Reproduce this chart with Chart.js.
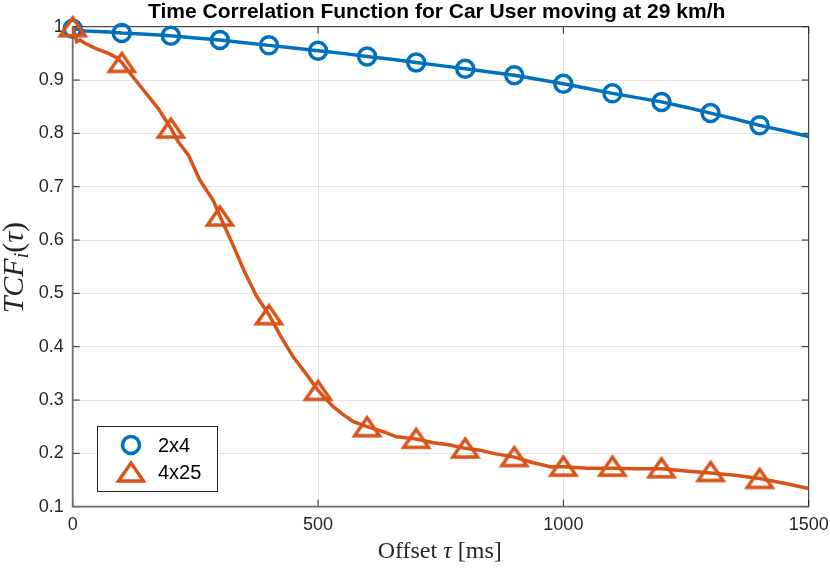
<!DOCTYPE html>
<html>
<head>
<meta charset="utf-8">
<script src="https://cdn.jsdelivr.net/npm/chart.js@4.4.1/dist/chart.umd.min.js"></script>
<style>
  html, body { margin: 0; padding: 0; background: #fff; }
  #wrap { width: 830px; height: 568px; }
</style>
</head>
<body>
<div id="wrap"><canvas id="tcfChart"></canvas></div>
<script>
// Values
const lineTau2x4 = [0, 25, 50, 75, 100, 150, 200, 250, 300, 350, 400, 450, 500, 550, 600, 650, 700, 750,
  800, 850, 900, 950, 1000, 1050, 1100, 1150, 1200, 1250, 1300, 1350, 1400, 1450, 1500];
const lineTcf2x4 = [0.997, 0.992, 0.991, 0.99, 0.988, 0.986, 0.983, 0.979, 0.975, 0.97, 0.965, 0.96, 0.955,
  0.95, 0.944, 0.939, 0.933, 0.927, 0.921, 0.915, 0.909, 0.901, 0.893, 0.884, 0.875, 0.867, 0.859, 0.849,
  0.838, 0.827, 0.815, 0.805, 0.794];

const lineTau4x25 = [0, 5, 8, 15, 25, 45, 73, 90, 100, 120, 147, 174, 200, 215, 236, 259, 286, 300, 327,
  350, 375, 400, 425, 450, 475, 500, 531, 552, 572, 600, 633, 660, 700, 735, 769, 800, 830, 857, 900, 939,
  973, 1000, 1050, 1100, 1150, 1200, 1250, 1300, 1350, 1400, 1450, 1500];
const lineTcf4x25 = [1.0, 0.985, 0.972, 0.975, 0.969, 0.96, 0.95, 0.942, 0.933, 0.909, 0.878, 0.847, 0.81,
  0.784, 0.759, 0.7125, 0.675, 0.645, 0.59, 0.541, 0.494, 0.46, 0.418, 0.38, 0.35, 0.318, 0.2875, 0.272,
  0.2594, 0.25, 0.2406, 0.231, 0.227, 0.22, 0.2156, 0.2094, 0.206, 0.2, 0.193, 0.1825, 0.175, 0.175, 0.172,
  0.172, 0.171, 0.171, 0.167, 0.163, 0.159, 0.153, 0.144, 0.134];

const markerTau = [0, 100, 200, 300, 400, 500, 600, 700, 800, 900, 1000, 1100, 1200, 1300, 1400];
const markerTcf2x4 = [0.996, 0.988, 0.983, 0.975, 0.965, 0.955, 0.944, 0.933, 0.921, 0.909, 0.893, 0.875,
  0.859, 0.838, 0.815];
const markerTcf4x25 = [1.0, 0.933, 0.81, 0.645, 0.46, 0.318, 0.25, 0.228, 0.21, 0.194, 0.176, 0.176, 0.173,
  0.166, 0.153];

const seriesNames = ["2x4", "4x25"];
const xTicks = [0, 500, 1000, 1500];
const yTicks = [0.1, 0.2, 0.3, 0.4, 0.5, 0.6, 0.7, 0.8, 0.9, 1];

const BLUE = "#0072BD";
const ORANGE = "#D95319";
const SANS = "'Liberation Sans', Arial, sans-serif";
const SERIF = "'Liberation Serif', 'Times New Roman', serif";

function toPoints(xs, ys) {
  return xs.map((x, i) => ({ x: x, y: ys[i] }));
}

// MATLAB style '^' marker, centred on its bounding box
function makeTriangle(color) {
  const c = document.createElement("canvas");
  c.width = 34;
  c.height = 30;
  const g = c.getContext("2d");
  g.strokeStyle = color;
  g.lineWidth = 3.4;
  g.lineJoin = "miter";
  g.beginPath();
  g.moveTo(17, 6);
  g.lineTo(29.5, 24);
  g.lineTo(4.5, 24);
  g.closePath();
  g.stroke();
  return c;
}
const triangle = makeTriangle(ORANGE);

// Box, inward ticks, titles and legend
const framePlugin = {
  id: "frame",
  beforeDatasetsDraw(chart) {
    const { ctx, chartArea: a, scales } = chart;
    ctx.save();
    ctx.strokeStyle = "#262626";
    ctx.lineWidth = 1;
    ctx.beginPath();
    scales.y.ticks.forEach((t) => {
      const py = scales.y.getPixelForValue(t.value);
      ctx.moveTo(a.left, py);
      ctx.lineTo(a.left + 7, py);
      ctx.moveTo(a.right, py);
      ctx.lineTo(a.right - 7, py);
    });
    scales.x.ticks.forEach((t) => {
      const px = scales.x.getPixelForValue(t.value);
      ctx.moveTo(px, a.bottom);
      ctx.lineTo(px, a.bottom - 7);
      ctx.moveTo(px, a.top);
      ctx.lineTo(px, a.top + 7);
    });
    ctx.moveTo(a.left, a.top);
    ctx.lineTo(a.right, a.top);
    ctx.lineTo(a.right, a.bottom);
    ctx.stroke();
    ctx.strokeStyle = "#6e6e6e";
    ctx.lineWidth = 1.8;
    ctx.beginPath();
    ctx.moveTo(a.left, a.top);
    ctx.lineTo(a.left, a.bottom);
    ctx.lineTo(a.right, a.bottom);
    ctx.stroke();
    ctx.restore();
  },
  afterDraw(chart) {
    const { ctx, chartArea: a } = chart;
    const cx = (a.left + a.right) / 2;
    ctx.save();
    ctx.fillStyle = "#000";

    // title
    ctx.font = "bold 21px " + SANS;
    ctx.textAlign = "center";
    ctx.textBaseline = "alphabetic";
    ctx.fillText("Time Correlation Function for Car User moving at 29 km/h", cx - 4, 18);

    // x axis title
    ctx.fillStyle = "#262626";
    const xParts = [["Offset ", "24px " + SERIF], ["\u03C4", "italic 24px " + SERIF], [" [ms]", "24px " + SERIF]];
    drawParts(ctx, xParts, cx - 1, 558);

    // y axis title
    ctx.save();
    ctx.translate(23, (a.top + a.bottom) / 2 + 1);
    ctx.rotate(-Math.PI / 2);
    const yParts = [["TCF", "italic 30px " + SERIF], ["i", "italic 20px " + SERIF, 5],
      ["(", "30px " + SERIF], ["\u03C4", "italic 30px " + SERIF], [")", "30px " + SERIF]];
    drawParts(ctx, yParts, 0, 0);
    ctx.restore();

    // legend
    ctx.fillStyle = "#fff";
    ctx.fillRect(97, 426, 121, 66);
    ctx.strokeStyle = "#262626";
    ctx.lineWidth = 1;
    ctx.strokeRect(97.5, 426.5, 120, 65);
    const sets = chart.data.datasets;
    const rows = [sets[1], sets[3]];
    rows.forEach((ds, i) => {
      const ly = 445 + i * 27;
      ctx.strokeStyle = ds.borderColor;
      ctx.fillStyle = "rgba(0,0,0,0)";
      ctx.lineWidth = ds.borderWidth;
      Chart.helpers.drawPoint(ctx, {
        pointStyle: ds.pointStyle, radius: ds.pointRadius, rotation: 0, borderWidth: ds.borderWidth
      }, 131, ly);
      ctx.fillStyle = "#000";
      ctx.font = "20px " + SANS;
      ctx.textAlign = "left";
      ctx.textBaseline = "middle";
      ctx.fillText(seriesNames[i], 158, ly + 1);
    });
    ctx.restore();
  }
};

// draw mixed-font text centred on x
function drawParts(ctx, parts, x, y) {
  let total = 0;
  parts.forEach((p) => { ctx.font = p[1]; total += ctx.measureText(p[0]).width; });
  let px = x - total / 2;
  ctx.textAlign = "left";
  ctx.textBaseline = "alphabetic";
  parts.forEach((p) => {
    ctx.font = p[1];
    ctx.fillText(p[0], px, y + (p[2] || 0));
    px += ctx.measureText(p[0]).width;
  });
}

new Chart(document.getElementById("tcfChart").getContext("2d"), {
  type: "line",
  data: {
    datasets: [
      {
        label: seriesNames[0] + " line",
        data: toPoints(lineTau2x4, lineTcf2x4),
        borderColor: BLUE,
        borderWidth: 3.5,
        pointRadius: 0,
        tension: 0,
        order: 4,
      },
      {
        label: seriesNames[0],
        data: toPoints(markerTau, markerTcf2x4),
        showLine: false,
        borderColor: BLUE,
        backgroundColor: "rgba(0,0,0,0)",
        borderWidth: 3.5,
        pointStyle: "circle",
        pointRadius: 8.5,
        clip: false,
        order: 3,
      },
      {
        label: seriesNames[1] + " line",
        data: toPoints(lineTau4x25, lineTcf4x25),
        borderColor: ORANGE,
        borderWidth: 3.5,
        pointRadius: 0,
        tension: 0,
        order: 2,
      },
      {
        label: seriesNames[1],
        data: toPoints(markerTau, markerTcf4x25),
        showLine: false,
        borderColor: ORANGE,
        backgroundColor: "rgba(0,0,0,0)",
        borderWidth: 3.4,
        pointStyle: triangle,
        pointRadius: 13,
        clip: false,
        order: 1,
      },
    ],
  },
  options: {
    responsive: true,
    maintainAspectRatio: false,
    animation: false,
    events: [],
    layout: { padding: { left: 0, right: 21.3, top: 26.7, bottom: 0 } },
    plugins: {
      legend: { display: false },
      tooltip: { enabled: false },
      title: { display: false },
    },
    scales: {
      x: {
        type: "linear",
        min: 0,
        max: 1500,
        afterBuildTicks: (scale) => { scale.ticks = xTicks.map((v) => ({ value: v })); },
        afterFit: (scale) => {
          scale.height = 61.3;
          scale.paddingLeft = 0;
          scale.paddingRight = 0;
        },
        grid: { color: "#e2e2e2", lineWidth: 1, drawTicks: false },
        border: { display: false },
        ticks: {
          padding: 8,
          color: "#262626",
          font: { family: SANS, size: 18 },
          maxRotation: 0,
          callback: (v) => String(v),
        },
      },
      y: {
        type: "linear",
        min: 0.1,
        max: 1,
        afterBuildTicks: (scale) => { scale.ticks = yTicks.map((v) => ({ value: v })); },
        afterFit: (scale) => {
          scale.width = 72.7;
          scale.paddingTop = 0;
          scale.paddingBottom = 0;
        },
        grid: { color: "#e2e2e2", lineWidth: 1, drawTicks: false },
        border: { display: false },
        ticks: {
          padding: 9,
          color: "#262626",
          font: { family: SANS, size: 18 },
          callback: (v) => String(+v.toFixed(1)),
        },
      },
    },
  },
  plugins: [framePlugin],
});
</script>
</body>
</html>
